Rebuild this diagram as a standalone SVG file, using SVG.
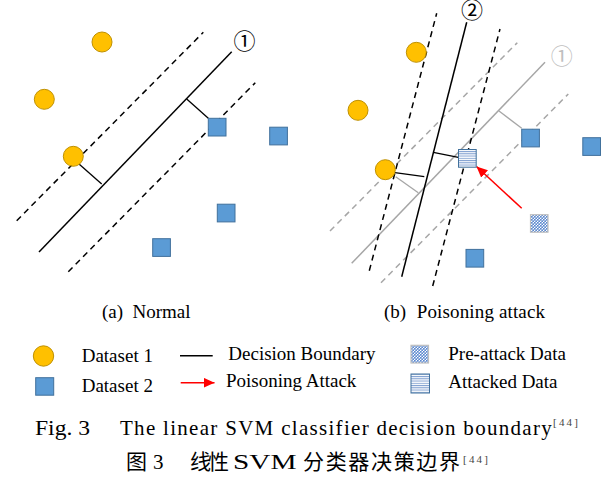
<svg xmlns="http://www.w3.org/2000/svg" width="613" height="479" viewBox="0 0 613 479">
<style>
.ds1{fill:#FFC000;stroke:#BF9000;stroke-width:1}
.ds2{fill:#5B9BD5;stroke:#41719C;stroke-width:1}
.bl{stroke:#000;stroke-width:1.5;fill:none}
.bd{stroke:#000;stroke-width:1.5;fill:none;stroke-dasharray:6 4.5}
.gl{stroke:#A6A6A6;stroke-width:1.5;fill:none}
.gd{stroke:#A6A6A6;stroke-width:1.5;fill:none;stroke-dasharray:6 4.5}
.bp{stroke:#000;stroke-width:1.3}
.gp{stroke:#A6A6A6;stroke-width:1.3}
.red{stroke:#FF0000;stroke-width:1.5;fill:none}
.t{font-family:"Liberation Serif","Times New Roman",serif;font-size:19px;fill:#000}
.cap{font-family:"Liberation Serif","Times New Roman",serif;font-size:21px;fill:#000}
.cjk{font-family:"Noto Sans CJK SC",sans-serif;font-size:21px;fill:#000}
.sup{font-family:"Liberation Serif","Times New Roman",serif;font-size:11px;fill:#444}
.num{font-family:"Noto Sans CJK SC","DejaVu Sans",sans-serif;font-size:22px}
</style>
<defs>
<pattern id="stripes" patternUnits="userSpaceOnUse" x="0" y="0.3" width="4" height="2.25">
<rect x="0" y="0" width="4" height="2.25" fill="#fff"/>
<rect x="0" y="0" width="4" height="1" fill="#7F9FD0"/>
</pattern>
<pattern id="dots" patternUnits="userSpaceOnUse" width="3" height="3">
<rect width="3" height="3" fill="#fff"/>
<circle cx="0.75" cy="0.75" r="1" fill="#5B88CF"/>
<circle cx="2.25" cy="2.25" r="1" fill="#5B88CF"/>
</pattern>
<marker id="ah" markerUnits="userSpaceOnUse" markerWidth="12" markerHeight="10" refX="11" refY="5" orient="auto">
<path d="M0,0 L11,5 L0,10 Z" fill="#FF0000"/>
</marker>
</defs>
<rect width="613" height="479" fill="#fff"/>

<g id="connectors">
<!-- panel a -->
<line class="bl" x1="39" y1="252" x2="231.7" y2="51.7"/>
<line class="bd" x1="16.7" y1="220.7" x2="203.3" y2="32.3"/>
<line class="bd" x1="68.3" y1="271.7" x2="255.3" y2="82.7"/>
<line class="bp" x1="79.3" y1="164.3" x2="101.7" y2="184"/>
<line class="bp" x1="186.7" y1="99" x2="208.3" y2="118.3"/>
<!-- panel b gray (boundary 1) -->
<line class="gl" x1="351.7" y1="263.3" x2="545" y2="62.3"/>
<line class="gd" x1="330" y1="231" x2="517.3" y2="42.7"/>
<line class="gd" x1="381" y1="282.7" x2="568.3" y2="94"/>
<line class="gp" x1="395.7" y1="176.7" x2="418.3" y2="192.7"/>
<line class="gp" x1="499" y1="111" x2="521.7" y2="128.3"/>
<!-- panel b black (boundary 2) -->
<line class="bl" x1="401.7" y1="276.7" x2="466.7" y2="22.3"/>
<line class="bd" x1="369.3" y1="270.7" x2="436.7" y2="13.3"/>
<line class="bd" x1="432.7" y1="286" x2="500" y2="29"/>
<line class="bp" x1="395" y1="172.7" x2="424.3" y2="176.7"/>
<line class="bp" x1="433.3" y1="152.3" x2="458.3" y2="157.3"/>
<!-- poisoning arrow -->
<line class="red" x1="521.7" y1="208.3" x2="476.5" y2="166.5" marker-end="url(#ah)"/>
</g>

<g id="panel-a-nodes">
<circle id="a-c1" class="ds1" cx="102" cy="42" r="10"/>
<circle id="a-c2" class="ds1" cx="44.3" cy="99.3" r="10"/>
<circle id="a-c3" class="ds1" cx="73.3" cy="156.3" r="10"/>
<rect id="a-s1" class="ds2" x="208.3" y="118.3" width="17.7" height="17.7"/>
<rect id="a-s2" class="ds2" x="269.7" y="127.2" width="17.7" height="17.7"/>
<rect id="a-s3" class="ds2" x="217.3" y="204.2" width="17.7" height="17.7"/>
<rect id="a-s4" class="ds2" x="152.7" y="238.7" width="17.7" height="17.7"/>
<text id="a-label1" class="num" x="244.5" y="49" text-anchor="middle" fill="#000">①</text>
</g>

<g id="panel-b-nodes">
<circle id="b-c1" class="ds1" cx="416.3" cy="52.3" r="10"/>
<circle id="b-c2" class="ds1" cx="358" cy="110.3" r="10"/>
<circle id="b-c3" class="ds1" cx="385.3" cy="169.7" r="10"/>
<rect id="b-s1" class="ds2" x="521.7" y="129.2" width="17.7" height="17.7"/>
<rect id="b-s2" class="ds2" x="582.8" y="137.7" width="17.7" height="17.7"/>
<rect id="b-s3" class="ds2" x="466" y="249.4" width="17.7" height="17.7"/>
<rect id="b-attacked" x="458.5" y="149.5" width="17.7" height="17.7" fill="url(#stripes)" stroke="#41719C" stroke-width="1"/>
<rect id="b-preattack" x="530.5" y="214.7" width="17.5" height="17.5" fill="url(#dots)" stroke="#BFBFBF" stroke-width="1.2"/>
<text id="b-label2" class="num" x="472" y="18" text-anchor="middle" fill="#000">②</text>
<text id="b-label1" class="num" x="561.7" y="63.5" text-anchor="middle" fill="#BFBFBF">①</text>
</g>

<g id="subcaptions">
<text class="t" x="102" y="318">(a)</text>
<text class="t" x="132.5" y="318">Normal</text>
<text class="t" x="384" y="318">(b)</text>
<text class="t" x="416.7" y="318" textLength="128.3">Poisoning attack</text>
</g>

<g id="legend">
<g id="lg-ds1"><circle class="ds1" cx="43.5" cy="356" r="10.2"/><text class="t" x="81.7" y="361.7">Dataset 1</text></g>
<g id="lg-ds2"><rect class="ds2" x="35.7" y="377.7" width="18" height="17.5"/><text class="t" x="81.7" y="391.7">Dataset 2</text></g>
<g id="lg-boundary"><line x1="180" y1="355.7" x2="212.7" y2="355.7" stroke="#000" stroke-width="1.5"/><text class="t" x="228.3" y="360">Decision Boundary</text></g>
<g id="lg-attack"><line class="red" x1="180.7" y1="382.7" x2="214.5" y2="382.7" marker-end="url(#ah)"/><text class="t" x="226" y="386.7">Poisoning Attack</text></g>
<g id="lg-pre"><rect x="411" y="345.3" width="17.5" height="17.7" fill="url(#dots)" stroke="#BFBFBF" stroke-width="1.2"/><text class="t" x="448.3" y="360">Pre-attack Data</text></g>
<g id="lg-attacked"><rect x="411" y="374" width="18.5" height="19" fill="url(#stripes)" stroke="#41719C" stroke-width="1"/><text class="t" x="448.3" y="388.3">Attacked Data</text></g>
</g>

<g id="caption">
<text class="cap" x="35" y="434.5" textLength="55" lengthAdjust="spacingAndGlyphs">Fig. 3</text>
<text class="cap" x="120" y="434.5" textLength="431.7">The linear SVM classifier decision boundary</text>
<text class="sup" x="553" y="426" textLength="25">[44]</text>
<text class="cjk" x="126" y="469">图</text>
<text class="cap" x="153" y="469">3</text>
<text class="cjk" x="190" y="469" textLength="39">线性</text>
<text class="cap" x="233" y="469" textLength="63.5" lengthAdjust="spacingAndGlyphs">SVM</text>
<text class="cjk" x="303" y="469" textLength="157">分类器决策边界</text>
<text class="sup" x="463" y="463" textLength="25">[44]</text>
</g>
</svg>
